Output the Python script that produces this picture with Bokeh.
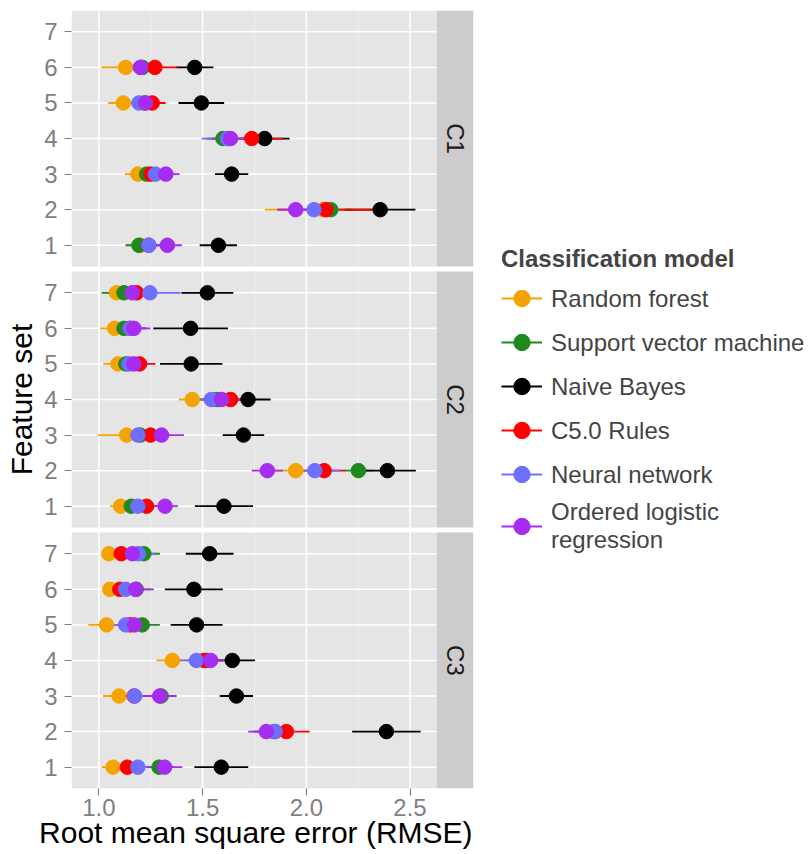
import math
from bokeh.plotting import figure
from bokeh.models import (ColumnDataSource, FixedTicker, Legend, LegendItem,
                          Range1d, PrintfTickFormatter)
from bokeh.embed import file_html
from bokeh.resources import INLINE
from bokeh.core.properties import value

# ---------------- data ----------------
models = ["Random forest", "Support vector machine", "Naive Bayes",
          "C5.0 Rules", "Neural network", "Ordered logistic\nregression"]
colors = ["#F5A300", "#1E8A1E", "#000000", "#FF0000", "#6E6EFF", "#A52CF0"]
classes = ["C1", "C2", "C3"]
feature_sets = [1, 2, 3, 4, 5, 6, 7]
x_ticks = [1.0, 1.5, 2.0, 2.5]
x_minor = [1.25, 1.75, 2.25]
nan = float("nan")

# RMSE means, order: C1 sets 1..7, C2 sets 1..7, C3 sets 1..7
rf_mean = [1.20, 2.08, 1.188, 1.62, 1.118, 1.129, nan,
           1.105, 1.949, 1.134, 1.45, 1.092, 1.076, 1.085,
           1.068, 1.85, 1.097, 1.354, 1.037, 1.053, 1.048]
rf_err = [0.07, 0.28, 0.063, 0.10, 0.073, 0.116, nan,
          0.052, 0.12, 0.137, 0.064, 0.071, 0.071, 0.06,
          0.055, 0.10, 0.076, 0.076, 0.088, 0.032, 0.032]
svm_mean = [1.193, 2.118, 1.230, 1.598, 1.22, 1.21, nan,
            1.156, 2.251, 1.20, 1.57, 1.13, 1.121, 1.121,
            1.29, 1.844, 1.30, 1.52, 1.209, 1.18, 1.217]
svm_err = [0.064, 0.10, 0.07, 0.08, 0.07, 0.08, nan,
           0.07, 0.07, 0.08, 0.08, 0.07, 0.07, 0.108,
           0.07, 0.10, 0.07, 0.08, 0.085, 0.07, 0.077]
nb_mean = [1.576, 2.356, 1.640, 1.799, 1.494, 1.462, nan,
           1.603, 2.391, 1.697, 1.719, 1.445, 1.442, 1.523,
           1.590, 2.386, 1.663, 1.643, 1.471, 1.458, 1.534]
nb_err = [0.09, 0.17, 0.08, 0.12, 0.11, 0.09, nan,
          0.14, 0.137, 0.10, 0.109, 0.15, 0.18, 0.125,
          0.13, 0.165, 0.08, 0.11, 0.125, 0.14, 0.115]
c50_mean = [1.24, 2.094, 1.25, 1.737, 1.257, 1.270, nan,
            1.230, 2.086, 1.249, 1.635, 1.196, 1.15, 1.182,
            1.137, 1.904, 1.17, 1.507, 1.15, 1.101, 1.108]
c50_err = [0.08, 0.23, 0.08, 0.15, 0.065, 0.108, nan,
           0.08, 0.10, 0.09, 0.10, 0.077, 0.08, 0.08,
           0.08, 0.112, 0.08, 0.08, 0.08, 0.07, 0.07]
nn_mean = [1.241, 2.037, 1.273, 1.62, 1.193, 1.20, nan,
           1.188, 2.041, 1.188, 1.542, 1.145, 1.15, 1.246,
           1.188, 1.85, 1.172, 1.47, 1.129, 1.129, 1.19]
nn_err = [0.07, 0.12, 0.07, 0.125, 0.07, 0.08, nan,
          0.07, 0.12, 0.08, 0.10, 0.07, 0.08, 0.148,
          0.08, 0.10, 0.08, 0.10, 0.08, 0.08, 0.08]
olr_mean = [1.330, 1.949, 1.323, 1.635, 1.225, 1.201, nan,
            1.319, 1.812, 1.302, 1.592, 1.169, 1.169, 1.161,
            1.317, 1.807, 1.293, 1.539, 1.172, 1.177, 1.161]
olr_err = [0.07, 0.09, 0.066, 0.09, 0.07, 0.08, nan,
           0.062, 0.075, 0.108, 0.09, 0.07, 0.08, 0.08,
           0.085, 0.087, 0.082, 0.09, 0.08, 0.088, 0.08]

means = [rf_mean, svm_mean, nb_mean, c50_mean, nn_mean, olr_mean]
errs = [rf_err, svm_err, nb_err, c50_err, nn_err, olr_err]

# ---------------- layout constants ----------------
FONT = "Liberation Sans"
x_lo, x_hi = 0.868, 2.629          # panel x extent
strip_w = 0.177                    # strip width in x units
pad = 0.6                          # discrete expansion
panel_h = len(feature_sets) - 1 + 2 * pad
gap = 0.136
pitch = panel_h + gap
n_cls = len(classes)


def panel_base(ci):
    # C1 on top
    return (n_cls - 1 - ci) * pitch


def ypos(ci, f):
    return panel_base(ci) + f - (1 - pad)


p = figure(frame_width=402, frame_height=778, output_backend="svg",
           toolbar_location=None,
           x_range=Range1d(x_lo, x_hi + strip_w),
           y_range=Range1d(0, n_cls * panel_h + (n_cls - 1) * gap),
           min_border_left=71, min_border_top=10, min_border_bottom=0,
           min_border_right=0, background_fill_color="white",
           border_fill_color="white")
p.outline_line_color = None
p.xgrid.visible = False
p.ygrid.visible = False

# panels, strips, grid
for ci, cname in enumerate(classes):
    b = panel_base(ci)
    p.quad(left=[x_lo], right=[x_hi], bottom=[b], top=[b + panel_h],
           fill_color="#E5E5E5", line_color=None)
    p.quad(left=[x_hi], right=[x_hi + strip_w], bottom=[b], top=[b + panel_h],
           fill_color="#CCCCCC", line_color=None)
    p.segment(x0=x_minor, x1=x_minor, y0=[b] * len(x_minor),
              y1=[b + panel_h] * len(x_minor), line_color="#F2F2F2",
              line_width=0.8)
    p.segment(x0=x_ticks, x1=x_ticks, y0=[b] * len(x_ticks),
              y1=[b + panel_h] * len(x_ticks), line_color="white",
              line_width=1.5)
    ys = [ypos(ci, f) for f in feature_sets]
    p.segment(x0=[x_lo] * len(ys), x1=[x_hi] * len(ys), y0=ys, y1=ys,
              line_color="white", line_width=1.5)
    p.text(x=[x_hi + strip_w / 2], y=[b + panel_h / 2], text=[cname],
           angle=-math.pi / 2, text_align="center", text_baseline="middle",
           text_font=value(FONT), text_font_size="24px", text_color="#1A1A1A")

# error bars first, then points (ggplot layer order)
seg_rs, pt_rs = [], []
sources = []
for mi, m in enumerate(models):
    xs, lo, hi, ys = [], [], [], []
    for ci in range(n_cls):
        for fi, f in enumerate(feature_sets):
            v = means[mi][ci * len(feature_sets) + fi]
            e = errs[mi][ci * len(feature_sets) + fi]
            if math.isnan(v):
                continue
            xs.append(v); lo.append(v - e); hi.append(v + e)
            ys.append(ypos(ci, f))
    sources.append(ColumnDataSource(dict(x=xs, lo=lo, hi=hi, y=ys)))

for mi, m in enumerate(models):
    seg_rs.append(p.segment(x0="lo", x1="hi", y0="y", y1="y",
                            source=sources[mi], line_color=colors[mi],
                            line_width=1.8))
for mi, m in enumerate(models):
    pt_rs.append(p.scatter(x="x", y="y", source=sources[mi], marker="circle",
                           size=14.5, fill_color=colors[mi],
                           line_color=colors[mi]))

# axes
p.xaxis.ticker = FixedTicker(ticks=x_ticks, minor_ticks=[])
p.xaxis.formatter = PrintfTickFormatter(format="%.1f")
y_ticks, y_over = [], {}
for ci in range(n_cls):
    for f in feature_sets:
        t = ypos(ci, f)
        y_ticks.append(t)
        y_over[t] = str(f)
p.yaxis.ticker = FixedTicker(ticks=y_ticks, minor_ticks=[])
p.yaxis.major_label_overrides = y_over

for ax in (p.xaxis[0], p.yaxis[0]):
    ax.axis_line_color = None
    ax.major_tick_line_color = "#7F7F7F"
    ax.major_tick_line_width = 1.2
    ax.major_tick_out = 7
    ax.major_tick_in = 0
    ax.minor_tick_line_color = None
    ax.major_label_text_color = "#7F7F7F"
    ax.major_label_text_font = FONT
    ax.major_label_text_font_size = "24px"
    ax.axis_label_text_font = FONT
    ax.axis_label_text_font_size = "30px"
    ax.axis_label_text_font_style = "normal"
    ax.axis_label_text_color = "black"

# trailing no-break spaces centre the title on the panels (not the strip)
p.xaxis.axis_label = "Root mean square error (RMSE)" + "\u00a0" * 4
p.yaxis.axis_label = "Feature set"
p.xaxis.major_label_standoff = 3
p.xaxis.axis_label_standoff = -3
p.yaxis.major_label_standoff = 7
p.yaxis.axis_label_standoff = 3

legend = Legend(items=[LegendItem(label=m, renderers=[seg_rs[i], pt_rs[i]])
                       for i, m in enumerate(models)],
                title="Classification model", location="center_left")
legend.title_text_font = FONT
legend.title_text_font_size = "24px"
legend.title_text_font_style = "bold"
legend.title_standoff = 5
legend.label_text_font = FONT
legend.label_text_font_size = "24px"
legend.label_text_line_height = 1.0
legend.glyph_width = 41
legend.glyph_height = 41
legend.label_height = 41
legend.label_standoff = 9
legend.spacing = 3
legend.padding = 6
legend.margin = 28
legend.border_line_color = None
legend.background_fill_alpha = 0
p.add_layout(legend, "right")

open("out.html", "w").write(file_html(p, INLINE))
